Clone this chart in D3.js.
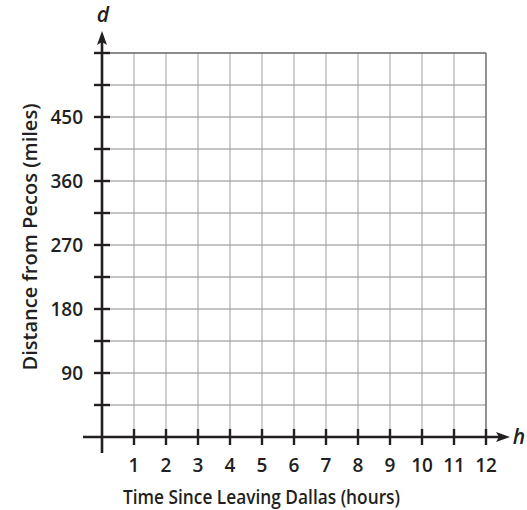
<!DOCTYPE html>
<html><head><meta charset="utf-8">
<script src="https://cdn.jsdelivr.net/npm/d3@7"></script>
<style>body{margin:0;background:#fff}svg{display:block}text{font-family:"Open Sans",sans-serif;fill:#231f20;font-weight:600}</style>
</head><body><svg id="c" width="527" height="510"></svg>
<script>
const xTicks = [1,2,3,4,5,6,7,8,9,10,11,12];
const yTickLabels = [90,180,270,360,450];
const yGridValues = [45,90,135,180,225,270,315,360,405,450,495,540];
const xTitle = "Time Since Leaving Dallas (hours)";
const yTitle = "Distance from Pecos (miles)";
const xVar = "h", yVar = "d";

const svg = d3.select("#c");
const x = d3.scaleLinear().domain([0,12]).range([102,486]);
const y = d3.scaleLinear().domain([0,540]).range([437,53]);
const ink = "#231f20";

svg.append("g").selectAll("line").data(xTicks.slice(0,-1)).join("line")
  .attr("x1",d=>x(d)).attr("x2",d=>x(d)).attr("y1",y(540)).attr("y2",y(0))
  .attr("stroke","#c4c4c4").attr("stroke-width",1.6);
svg.append("g").selectAll("line").data(yGridValues.slice(0,-1)).join("line")
  .attr("x1",x(0)).attr("x2",x(12)).attr("y1",d=>y(d)).attr("y2",d=>y(d))
  .attr("stroke","#8a8a8a").attr("stroke-width",1);
svg.append("line").attr("x1",x(0)).attr("x2",x(12)).attr("y1",y(540)).attr("y2",y(540)).attr("stroke","#666").attr("stroke-width",1.4);
svg.append("line").attr("x1",x(12)).attr("x2",x(12)).attr("y1",y(540)).attr("y2",y(0)).attr("stroke","#666").attr("stroke-width",1.4);

svg.append("line").attr("x1",83).attr("x2",503).attr("y1",y(0)).attr("y2",y(0)).attr("stroke",ink).attr("stroke-width",2.6);
svg.append("line").attr("x1",x(0)).attr("x2",x(0)).attr("y1",453).attr("y2",38).attr("stroke",ink).attr("stroke-width",2.6);
svg.append("path").attr("d",`M${x(0)},31 L${x(0)-5},45 L${x(0)},42 L${x(0)+5},45 Z`).attr("fill",ink);
svg.append("path").attr("d",`M510,${y(0)} L496,${y(0)-5} L499,${y(0)} L496,${y(0)+5} Z`).attr("fill",ink);

svg.append("g").selectAll("line").data(xTicks).join("line")
  .attr("x1",d=>x(d)).attr("x2",d=>x(d)).attr("y1",y(0)-8).attr("y2",y(0)+8)
  .attr("stroke",ink).attr("stroke-width",2.4);
svg.append("g").selectAll("text").data(xTicks).join("text")
  .attr("x",d=>x(d)).attr("y",y(0)+35).attr("text-anchor","middle")
  .attr("font-size",19).text(d=>d);
svg.append("g").selectAll("line").data(yGridValues).join("line")
  .attr("x1",x(0)-8).attr("x2",x(0)+8).attr("y1",d=>y(d)).attr("y2",d=>y(d))
  .attr("stroke",ink).attr("stroke-width",2.4);
svg.append("g").selectAll("text").data(yTickLabels).join("text")
  .attr("x",83).attr("y",d=>y(d)).attr("dy","0.36em").attr("text-anchor","end")
  .attr("font-size",19).text(d=>d);

svg.append("text").attr("x",261.5).attr("y",504).attr("text-anchor","middle").attr("font-size",19.5)
  .attr("textLength",277).attr("lengthAdjust","spacingAndGlyphs").text(xTitle);
svg.append("text").attr("transform","translate(37,237) rotate(-90)").attr("text-anchor","middle").attr("font-size",19.5)
  .attr("textLength",267).attr("lengthAdjust","spacingAndGlyphs").text(yTitle);
svg.append("text").attr("x",103).attr("y",22).attr("text-anchor","middle").attr("font-size",21).attr("font-style","italic").attr("font-weight",400).text(yVar);
svg.append("text").attr("x",519).attr("y",y(0)+7).attr("text-anchor","middle").attr("font-size",21).attr("font-style","italic").attr("font-weight",400).text(xVar);
</script></body></html>
